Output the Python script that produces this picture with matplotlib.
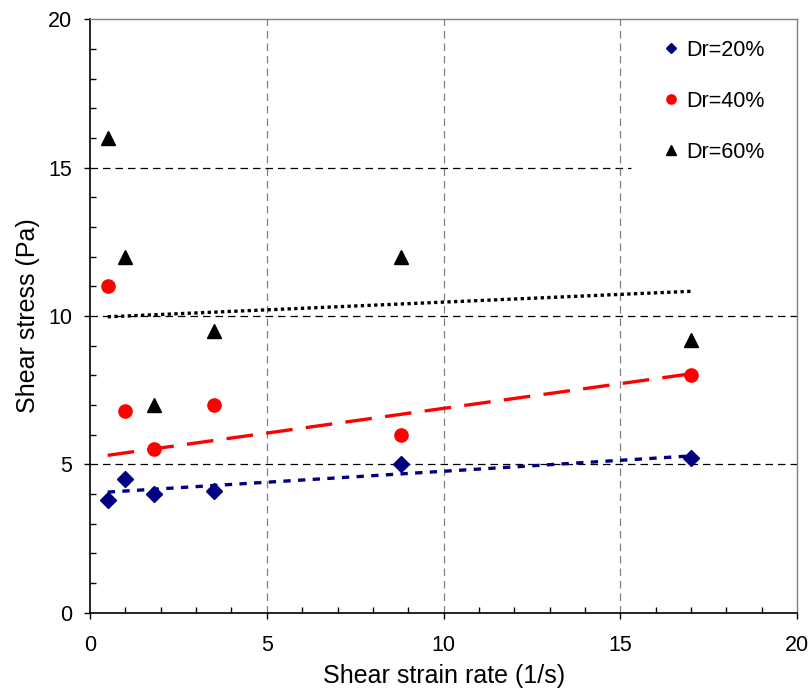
import matplotlib
matplotlib.use("Agg")
import matplotlib.pyplot as plt
from matplotlib.ticker import MultipleLocator

plt.rcParams['font.family'] = ['Liberation Sans', 'DejaVu Sans']

rate = [0.5, 1.0, 1.8, 3.5, 8.8, 17.0]
dr20 = [3.8, 4.5, 4.0, 4.1, 5.0, 5.2]
dr40 = [11.0, 6.8, 5.5, 7.0, 6.0, 8.0]
dr60 = [16.0, 12.0, 7.0, 9.5, 12.0, 9.2]

# trendline end points (x from first to last rate)
trend_x = [0.5, 17.0]
trend20 = [4.06, 5.28]
trend40 = [5.30, 8.05]
trend60 = [9.97, 10.83]

fig = plt.figure(figsize=(8.11, 6.89), dpi=100)
ax = fig.add_axes([0.111, 0.111, 0.872, 0.861])

ax.set_xlim(0, 20)
ax.set_ylim(0, 20)

# grid: black dashes across, grey dashes up; the 15 line stops short of the legend
for v in (5, 10, 15):
    ax.axhline(v, xmax=0.765 if v == 15 else 1.0, color='black', lw=0.9,
               ls=(0, (6, 4)), zorder=1)
    ax.axvline(v, color='#808080', lw=0.9, ls=(0, (6, 4)), zorder=1)

ax.plot(trend_x, trend20, color='#000080', lw=2.4, ls=(0, (2.2, 2.2)), zorder=2)
ax.plot(trend_x, trend40, color='#ff0000', lw=2.4, ls=(0, (8, 4)), zorder=2)
ax.plot(trend_x, trend60, color='black', lw=2.4, ls=(0, (1, 1)), zorder=2)

ax.plot(rate, dr20, 'D', color='#000080', ms=8, ls='none', label='Dr=20%', zorder=3)
ax.plot(rate, dr40, 'o', color='#ff0000', ms=9.5, ls='none', label='Dr=40%', zorder=3)
ax.plot(rate, dr60, '^', color='black', ms=9.5, ls='none', label='Dr=60%', zorder=3)

ax.xaxis.set_major_locator(MultipleLocator(5))
ax.xaxis.set_minor_locator(MultipleLocator(1))
ax.yaxis.set_major_locator(MultipleLocator(5))
ax.yaxis.set_minor_locator(MultipleLocator(1))
ax.tick_params(which='major', direction='out', length=4, width=1, labelsize=15.5)
ax.tick_params(which='minor', direction='in', length=4, width=1)
ax.tick_params(axis='x', which='major', pad=12)
ax.tick_params(axis='y', which='major', pad=9)

for side in ('left', 'bottom'):
    ax.spines[side].set_color('black')
    ax.spines[side].set_linewidth(1.2)
for side in ('top', 'right'):
    ax.spines[side].set_color('#808080')
    ax.spines[side].set_linewidth(1.0)

ax.set_xlabel('Shear strain rate (1/s)', fontsize=18, labelpad=6)
ax.set_ylabel('Shear stress (Pa)', fontsize=18, labelpad=6)

leg = ax.legend(loc='upper left', bbox_to_anchor=(0.775, 1.0), fontsize=15.5,
                markerscale=0.7, handlelength=1.2, handletextpad=0.1,
                labelspacing=1.4, borderpad=0.95, borderaxespad=0.0,
                frameon=False)
leg.set_zorder(5)

fig.savefig('out.png', dpi=100)
